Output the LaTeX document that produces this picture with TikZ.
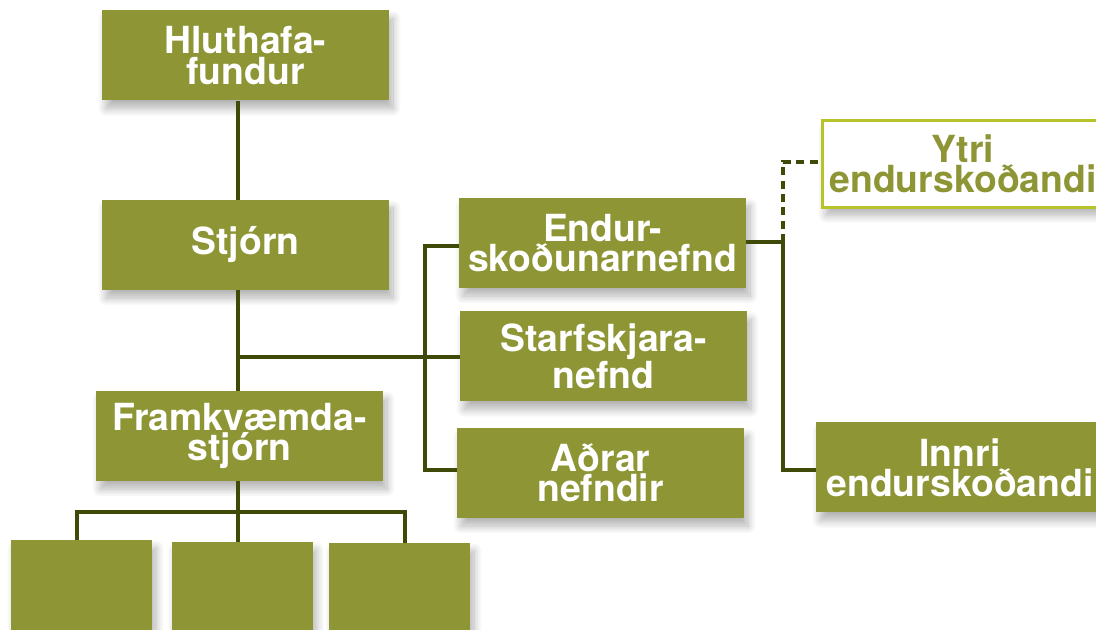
\documentclass[tikz,border=0pt]{standalone}
\usepackage{fontspec}
\setmainfont{TeX Gyre Heros}
\usetikzlibrary{shadows.blur}
\definecolor{boxolive}{HTML}{8E9535}
\definecolor{lineolive}{HTML}{3F4A08}
\definecolor{ytriborder}{HTML}{B7C32B}
\begin{document}
\begin{tikzpicture}[x=0.75pt,y=-0.75pt,
  orgbox/.style={rectangle, fill=boxolive, text=white, inner sep=0pt,
    minimum width=215.25pt, minimum height=67.5pt, align=center,
    font=\fontsize{28}{22.8}\selectfont\bfseries,
    blur shadow={shadow xshift=3pt, shadow yshift=-6pt, shadow blur radius=6pt, shadow opacity=30, shadow blur steps=10}},
  smallbox/.style={orgbox, minimum width=105.75pt},
  outbox/.style={orgbox, fill=white, draw=ytriborder, line width=2.25pt, text=boxolive},
  conn/.style={draw=lineolive, line width=2.4pt},
  dconn/.style={conn, dash pattern=on 6pt off 4pt}]
\useasboundingbox (0,0) rectangle (1096,630);
\clip (0,0) rectangle (1096,630);
% boxes
\node[orgbox] (hf) at (245.5,55.5) {Hluthafa-\\fundur};
\node[orgbox] (st) at (245.5,245) {Stjórn};
\node[orgbox] (fk) at (239.5,436) {Framkvæmda-\\stjórn};
\node[smallbox] (b1) at (81.5,585) {};
\node[smallbox, minimum height=66pt] (b2) at (242,586) {};
\node[smallbox, minimum height=65.25pt] (b3) at (399.5,586.5) {};
\node[orgbox] (en) at (602.5,243) {Endur-\\skoðunarnefnd};
\node[orgbox] (sk) at (603.5,356.5) {Starfskjara-\\nefnd};
\node[orgbox] (ad) at (600.5,473) {Aðrar\\nefndir};
\node[outbox, minimum width=211.5pt, minimum height=65pt] (yt) at (963,164) {Ytri\\endurskoðandi};
\node[orgbox, minimum width=216pt] (in) at (960,467.5) {Innri\\endurskoðandi};
% junction points
\coordinate (cA) at (238,357);
\coordinate (cBt) at (425,246);
\coordinate (cBb) at (425,470);
\coordinate (cC) at (783,242);
\coordinate (cCb) at (783,470);
\coordinate (cCt) at (783,162);
\coordinate (cD) at (238,512);
\coordinate (cDl) at (77,512);
\coordinate (cDr) at (405,512);
% connectors
\draw[conn] (hf.south -| cA) -- (st.north -| cA);
\draw[conn] (st.south -| cA) -- (fk.north -| cA);
\draw[conn] (cA) -- (sk.west |- cA);
\draw[conn] (en.west |- cBt) -- (cBt) -- (cBb) -- (ad.west |- cBb);
\draw[conn] (en.east |- cC) -- (cC) -- (cCb) -- (in.west |- cCb);
\draw[dconn] (cC) -- (cCt) -- (yt.west |- cCt);
\draw[conn] (fk.south -| cD) -- (cD);
\draw[conn] (b1.north -| cDl) -- (cDl) -- (cDr) -- (b3.north -| cDr);
\draw[conn] (cD) -- (b2.north -| cD);
\end{tikzpicture}
\end{document}
